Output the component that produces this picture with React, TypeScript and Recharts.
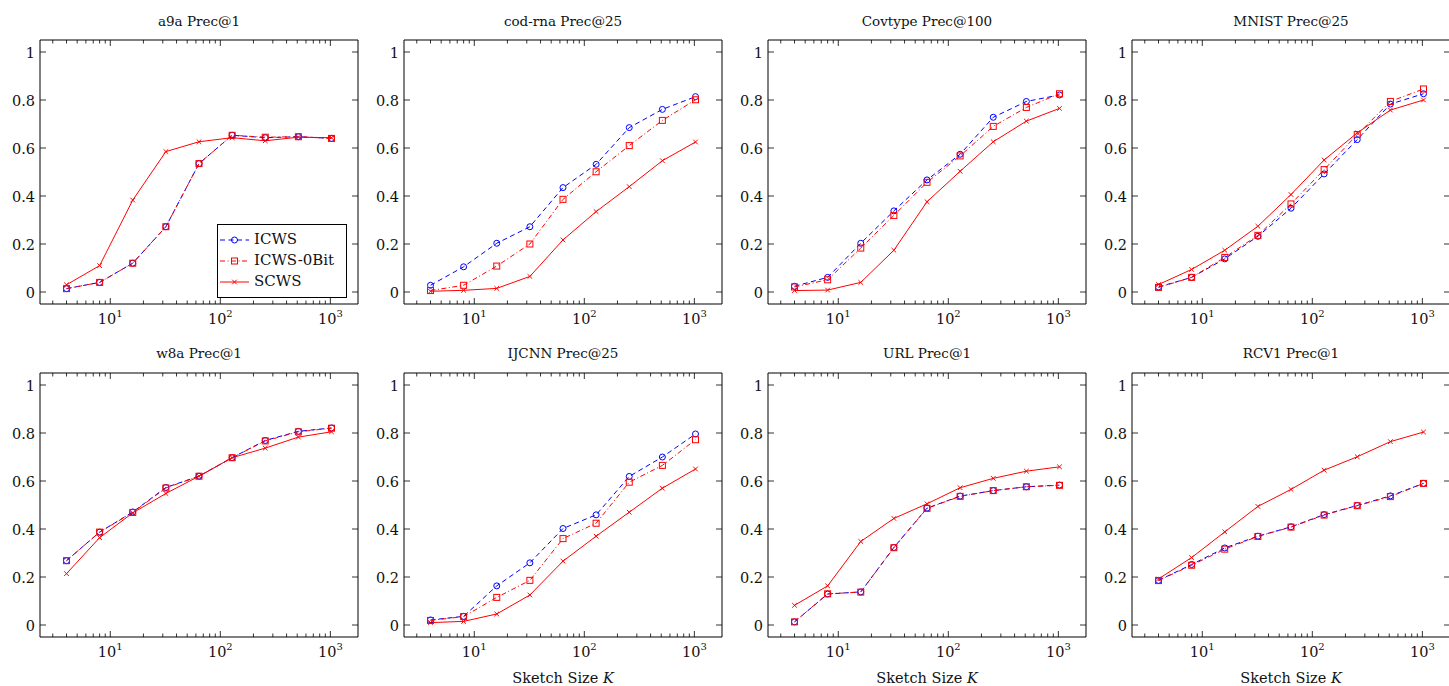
import React from 'react';
import { LineChart, Line, XAxis, YAxis, Legend } from 'recharts';

// ---------- data ----------
const sketchSizes = [4, 8, 16, 32, 64, 128, 256, 512, 1024];
const xMajorTicks = [10, 100, 1000];
const xMinorTicks = [3, 4, 5, 6, 7, 8, 9, 20, 30, 40, 50, 60, 70, 80, 90, 200, 300, 400, 500, 600, 700, 800, 900];
const yTicks = [0, 0.2, 0.4, 0.6, 0.8, 1];
const seriesNames = ['ICWS', 'ICWS-0Bit', 'SCWS'];

const a9aIcws = [0.014, 0.04, 0.12, 0.272, 0.535, 0.653, 0.643, 0.647, 0.64];
const a9aIcws0 = [0.014, 0.04, 0.12, 0.272, 0.535, 0.653, 0.645, 0.647, 0.64];
const a9aScws = [0.03, 0.11, 0.383, 0.585, 0.626, 0.643, 0.63, 0.645, 0.643];

const codIcws = [0.028, 0.105, 0.203, 0.272, 0.435, 0.532, 0.685, 0.761, 0.814];
const codIcws0 = [0.006, 0.028, 0.108, 0.2, 0.386, 0.501, 0.61, 0.715, 0.801];
const codScws = [0.003, 0.007, 0.015, 0.065, 0.217, 0.335, 0.439, 0.547, 0.625];

const covIcws = [0.024, 0.061, 0.203, 0.338, 0.467, 0.574, 0.728, 0.794, 0.821];
const covIcws0 = [0.021, 0.051, 0.183, 0.319, 0.457, 0.567, 0.69, 0.769, 0.826];
const covScws = [0.006, 0.008, 0.04, 0.174, 0.376, 0.503, 0.626, 0.712, 0.765];

const mnistIcws = [0.021, 0.061, 0.138, 0.232, 0.349, 0.492, 0.635, 0.783, 0.826];
const mnistIcws0 = [0.019, 0.061, 0.144, 0.236, 0.367, 0.51, 0.656, 0.794, 0.846];
const mnistScws = [0.031, 0.094, 0.174, 0.274, 0.406, 0.55, 0.663, 0.758, 0.8];

const w8aIcws = [0.268, 0.387, 0.471, 0.573, 0.62, 0.697, 0.769, 0.807, 0.821];
const w8aIcws0 = [0.268, 0.387, 0.469, 0.571, 0.62, 0.697, 0.767, 0.805, 0.82];
const w8aScws = [0.214, 0.364, 0.467, 0.548, 0.62, 0.697, 0.737, 0.783, 0.805];

const ijcnnIcws = [0.021, 0.036, 0.163, 0.259, 0.402, 0.459, 0.619, 0.7, 0.796];
const ijcnnIcws0 = [0.019, 0.035, 0.115, 0.186, 0.36, 0.424, 0.595, 0.665, 0.772];
const ijcnnScws = [0.01, 0.015, 0.046, 0.125, 0.266, 0.37, 0.47, 0.57, 0.65];

const urlIcws = [0.013, 0.129, 0.138, 0.323, 0.487, 0.537, 0.56, 0.576, 0.583];
const urlIcws0 = [0.013, 0.13, 0.137, 0.322, 0.486, 0.536, 0.56, 0.576, 0.582];
const urlScws = [0.082, 0.163, 0.348, 0.444, 0.505, 0.572, 0.611, 0.641, 0.659];

const rcvIcws = [0.186, 0.252, 0.321, 0.37, 0.409, 0.46, 0.498, 0.538, 0.59];
const rcvIcws0 = [0.185, 0.249, 0.316, 0.369, 0.408, 0.458, 0.497, 0.535, 0.59];
const rcvScws = [0.192, 0.281, 0.388, 0.494, 0.565, 0.645, 0.701, 0.764, 0.804];

const panels = [
  { title: 'a9a Prec@1', icws: a9aIcws, icws0: a9aIcws0, scws: a9aScws },
  { title: 'cod-rna Prec@25', icws: codIcws, icws0: codIcws0, scws: codScws },
  { title: 'Covtype Prec@100', icws: covIcws, icws0: covIcws0, scws: covScws },
  { title: 'MNIST Prec@25', icws: mnistIcws, icws0: mnistIcws0, scws: mnistScws },
  { title: 'w8a Prec@1', icws: w8aIcws, icws0: w8aIcws0, scws: w8aScws },
  { title: 'IJCNN Prec@25', icws: ijcnnIcws, icws0: ijcnnIcws0, scws: ijcnnScws },
  { title: 'URL Prec@1', icws: urlIcws, icws0: urlIcws0, scws: urlScws },
  { title: 'RCV1 Prec@1', icws: rcvIcws, icws0: rcvIcws0, scws: rcvScws },
];

// ---------- styling / layout ----------
const FONT = '"DejaVu Serif", serif';
const TEXT = '#111';
const BLUE = '#0000ff';
const RED = '#ff0000';
const MAJOR_LEN = 6;
const MINOR_LEN = 3.5;
const COL_W = 364;
const CHART_H = 343;
const PLOT_W = 318;
const TICK_FS = 14.5;

const logMin = Math.log10(4);
const logMax = Math.log10(1024);
const xDomain = [Math.pow(10, logMin - 0.1 * (logMax - logMin)), Math.pow(10, logMax + 0.1 * (logMax - logMin))];
const yDomain = [-0.05, 1.05];
const allXTicks = [...xMinorTicks, ...xMajorTicks].sort((a, b) => a - b);

function BottomTick(props: any) {
  const { x, y, payload } = props;
  const v = payload.value;
  const major = xMajorTicks.includes(v);
  return (
    <g>
      <line x1={x} x2={x} y1={y} y2={y - (major ? MAJOR_LEN : MINOR_LEN)} stroke="#000" strokeWidth={0.8} />
      {major && (
        <text x={x} y={y + 20} textAnchor="middle" fontFamily={FONT} fontSize={TICK_FS} fill={TEXT}>
          10
          <tspan dy={-7} fontSize={10}>
            {Math.round(Math.log10(v))}
          </tspan>
        </text>
      )}
    </g>
  );
}

function TopTick(props: any) {
  const { x, y, payload } = props;
  const major = xMajorTicks.includes(payload.value);
  return <line x1={x} x2={x} y1={y} y2={y + (major ? MAJOR_LEN : MINOR_LEN)} stroke="#000" strokeWidth={0.8} />;
}

function LeftTick(props: any) {
  const { x, y, payload } = props;
  return (
    <g>
      <line x1={x} x2={x + MAJOR_LEN} y1={y} y2={y} stroke="#000" strokeWidth={0.8} />
      <text x={x - 5} y={y + 6} textAnchor="end" fontFamily={FONT} fontSize={TICK_FS} fill={TEXT}>
        {String(payload.value)}
      </text>
    </g>
  );
}

function RightTick(props: any) {
  const { x, y } = props;
  return <line x1={x} x2={x - MAJOR_LEN} y1={y} y2={y} stroke="#000" strokeWidth={0.8} />;
}

const CircleDot = (p: any) => (
  <circle key={`c-${p.index}`} cx={p.cx} cy={p.cy} r={3} fill="none" stroke={BLUE} strokeWidth={1} />
);
const SquareDot = (p: any) => (
  <rect key={`s-${p.index}`} x={p.cx - 3} y={p.cy - 3} width={6} height={6} fill="none" stroke={RED} strokeWidth={1} />
);
const CrossDot = (p: any) => (
  <path
    key={`x-${p.index}`}
    d={`M${p.cx - 2.3},${p.cy - 2.3}L${p.cx + 2.3},${p.cy + 2.3}M${p.cx - 2.3},${p.cy + 2.3}L${p.cx + 2.3},${p.cy - 2.3}`}
    stroke={RED}
    strokeWidth={1}
    fill="none"
  />
);

const DASH_ICWS = '5 3.5';
const DASH_ICWS0 = '5 2.5 1 2.5';

function LegendBox() {
  const rows = [
    { name: seriesNames[0], color: BLUE, dash: DASH_ICWS, mark: 'o' },
    { name: seriesNames[1], color: RED, dash: DASH_ICWS0, mark: 's' },
    { name: seriesNames[2], color: RED, dash: undefined, mark: 'x' },
  ];
  return (
    <div
      style={{
        border: '1px solid #000',
        background: '#fff',
        width: 128,
        height: 66,
        boxSizing: 'content-box',
        paddingTop: 4,
        paddingBottom: 2,
        fontFamily: FONT,
        fontSize: 15,
        color: TEXT,
      }}
    >
      {rows.map((r) => (
        <div key={r.name} style={{ display: 'flex', alignItems: 'center', height: 21 }}>
          <svg width={32} height={14} style={{ marginLeft: 1, marginRight: 3, flex: 'none' }}>
            <line x1={1} x2={30} y1={7} y2={7} stroke={r.color} strokeWidth={1} strokeDasharray={r.dash} />
            {r.mark === 'o' && <circle cx={15.5} cy={7} r={3} fill="none" stroke={r.color} strokeWidth={1} />}
            {r.mark === 's' && <rect x={12.5} y={4} width={6} height={6} fill="none" stroke={r.color} strokeWidth={1} />}
            {r.mark === 'x' && (
              <path d="M13.2,4.7L17.8,9.3M13.2,9.3L17.8,4.7" stroke={r.color} strokeWidth={1} fill="none" />
            )}
          </svg>
          <span style={{ lineHeight: '21px', whiteSpace: 'nowrap' }}>{r.name}</span>
        </div>
      ))}
    </div>
  );
}

function Panel({ idx }: { idx: number }) {
  const p = panels[idx];
  const row = Math.floor(idx / 4);
  const col = idx % 4;
  const data = sketchSizes.map((k, i) => ({ k, icws: p.icws[i], icws0: p.icws0[i], scws: p.scws[i] }));
  const marginTop = row === 0 ? 39 : 29;
  const bottomH = row === 0 ? 39 : 49;
  return (
    <div style={{ position: 'absolute', left: col * COL_W, top: row * CHART_H, width: COL_W, height: CHART_H }}>
      <LineChart width={COL_W} height={CHART_H} data={data} margin={{ top: marginTop, right: 5, bottom: 0, left: 0 }}>
        <XAxis
          dataKey="k"
          type="number"
          scale="log"
          domain={xDomain}
          allowDataOverflow
          ticks={allXTicks}
          interval={0}
          tickSize={0}
          tickMargin={0}
          tickLine={false}
          axisLine={{ stroke: '#000', strokeWidth: 1 }}
          tick={BottomTick}
          height={bottomH}
        />
        <XAxis
          xAxisId="top"
          orientation="top"
          dataKey="k"
          type="number"
          scale="log"
          domain={xDomain}
          allowDataOverflow
          ticks={allXTicks}
          interval={0}
          tickSize={0}
          tickMargin={0}
          tickLine={false}
          axisLine={{ stroke: '#000', strokeWidth: 1 }}
          tick={TopTick}
          height={1}
        />
        <YAxis
          type="number"
          domain={yDomain}
          allowDataOverflow
          ticks={yTicks}
          interval={0}
          tickSize={0}
          tickMargin={0}
          tickLine={false}
          axisLine={{ stroke: '#000', strokeWidth: 1 }}
          tick={LeftTick}
          width={40}
        />
        <YAxis
          yAxisId="r"
          orientation="right"
          type="number"
          domain={yDomain}
          allowDataOverflow
          ticks={yTicks}
          interval={0}
          tickSize={0}
          tickMargin={0}
          tickLine={false}
          axisLine={{ stroke: '#000', strokeWidth: 1 }}
          tick={RightTick}
          width={1}
        />
        <Line
          name={seriesNames[0]}
          dataKey="icws"
          type="linear"
          stroke={BLUE}
          strokeWidth={1}
          strokeDasharray={DASH_ICWS}
          dot={CircleDot}
          activeDot={false}
          isAnimationActive={false}
        />
        <Line
          name={seriesNames[1]}
          dataKey="icws0"
          type="linear"
          stroke={RED}
          strokeWidth={1}
          strokeDasharray={DASH_ICWS0}
          dot={SquareDot}
          activeDot={false}
          isAnimationActive={false}
        />
        <Line
          name={seriesNames[2]}
          dataKey="scws"
          type="linear"
          stroke={RED}
          strokeWidth={1}
          dot={CrossDot}
          activeDot={false}
          isAnimationActive={false}
        />
        {idx === 0 && (
          <Legend
            layout="vertical"
            align="center"
            verticalAlign="middle"
            content={() => <LegendBox />}
            wrapperStyle={{ left: 217, top: 224, width: 130, height: 74 }}
          />
        )}
      </LineChart>
    </div>
  );
}

export default function App() {
  return (
    <div style={{ position: 'absolute', left: 0, top: 0, width: 1449, height: 686, overflow: 'hidden', background: '#fff' }}>
      {panels.map((_, i) => (
        <Panel key={i} idx={i} />
      ))}
      <svg
        width={1449}
        height={686}
        style={{ position: 'absolute', left: 0, top: 0, pointerEvents: 'none' }}
      >
        {panels.map((p, i) => {
          const row = Math.floor(i / 4);
          const col = i % 4;
          const cx = col * COL_W + 40 + PLOT_W / 2;
          return (
            <text key={p.title} x={cx} y={row === 0 ? 25.5 : 358} textAnchor="middle" fontFamily={FONT} fontSize={13.5} fill={TEXT}>
              {p.title}
            </text>
          );
        })}
        {[1, 2, 3].map((col) => (
          <text key={col} x={col * COL_W + 40 + PLOT_W / 2} y={683} textAnchor="middle" fontFamily={FONT} fontSize={14.5} fill={TEXT}>
            Sketch Size <tspan fontStyle="italic">K</tspan>
          </text>
        ))}
      </svg>
    </div>
  );
}
